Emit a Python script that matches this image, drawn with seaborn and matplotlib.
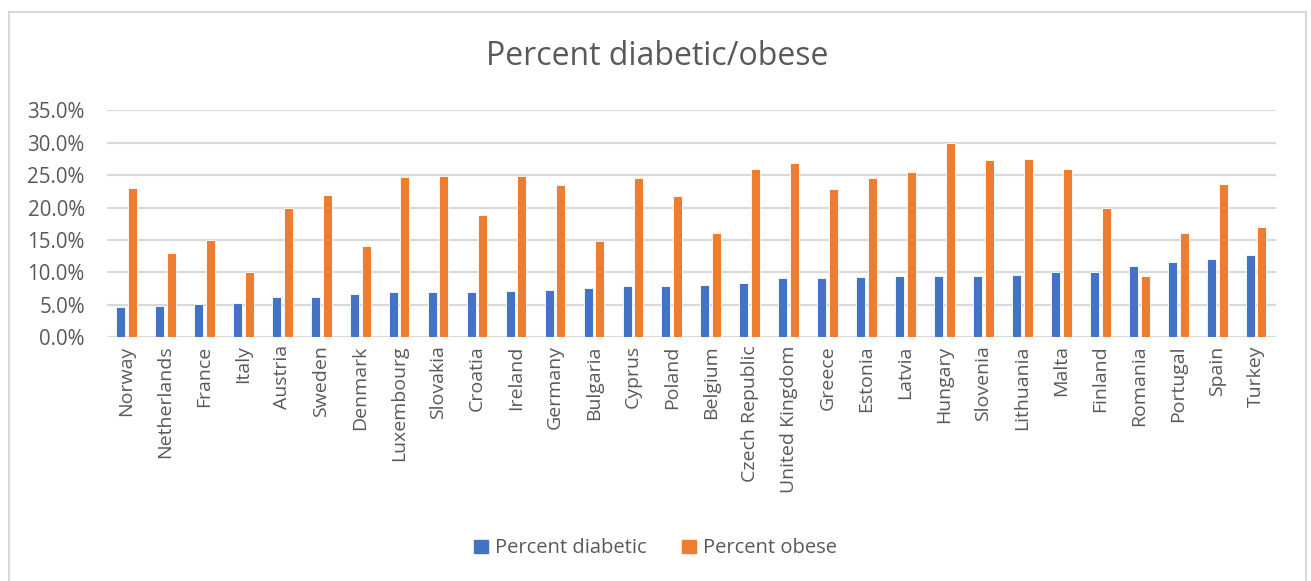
import matplotlib
matplotlib.use("Agg")
import matplotlib.pyplot as plt
import matplotlib.patches as mpatches
from matplotlib.ticker import PercentFormatter, MultipleLocator
import pandas as pd
import seaborn as sns

countries = [
    "Norway", "Netherlands", "France", "Italy", "Austria", "Sweden", "Denmark",
    "Luxembourg", "Slovakia", "Croatia", "Ireland", "Germany", "Bulgaria",
    "Cyprus", "Poland", "Belgium", "Czech Republic", "United Kingdom", "Greece",
    "Estonia", "Latvia", "Hungary", "Slovenia", "Lithuania", "Malta", "Finland",
    "Romania", "Portugal", "Spain", "Turkey",
]
pct_diabetic = [
    4.6, 4.8, 5.1, 5.3, 6.1, 6.1, 6.7, 6.9, 6.9, 6.9, 7.1, 7.3, 7.5, 7.8, 7.8,
    8.0, 8.3, 9.1, 9.1, 9.2, 9.4, 9.4, 9.4, 9.6, 10.0, 10.0, 11.0, 11.6, 12.0, 12.6,
]
pct_obese = [
    23.0, 13.0, 15.0, 10.0, 20.0, 22.0, 14.0, 24.7, 24.9, 18.8, 24.9, 23.5, 14.8,
    24.5, 21.8, 16.0, 25.9, 26.9, 22.9, 24.5, 25.5, 30.0, 27.3, 27.5, 25.9, 20.0,
    9.4, 16.0, 23.7, 17.0,
]
series_names = ["Percent diabetic", "Percent obese"]
series_colors = ["#4472C4", "#ED7D31"]

df = pd.DataFrame({
    "country": countries * 2,
    "series": [series_names[0]] * len(countries) + [series_names[1]] * len(countries),
    "value": [v / 100 for v in pct_diabetic] + [v / 100 for v in pct_obese],
})

sns.set_theme(style="white")
plt.rcParams["font.family"] = ["Open Sans", "DejaVu Sans"]

text_color = "#595959"
grid_color = "#D9D9D9"

fig = plt.figure(figsize=(13.11, 5.81), dpi=100)
ax = fig.add_axes([0.0816, 0.42, 0.8914, 0.39])

sns.barplot(
    data=df, x="country", y="value", hue="series", order=countries,
    hue_order=series_names, palette=series_colors, width=0.6, gap=0.23,
    edgecolor="white", linewidth=0.6, saturation=1, ax=ax, legend=False,
)

ax.set_ylim(0, 0.35)
ax.set_xlim(-0.5, len(countries) - 0.5)
ax.yaxis.set_major_locator(MultipleLocator(0.05))
ax.yaxis.set_major_formatter(PercentFormatter(xmax=1, decimals=1))
ax.grid(axis="y", color=grid_color, linewidth=1.6)
ax.set_axisbelow(True)
for side in ["top", "right", "left", "bottom"]:
    ax.spines[side].set_visible(False)
ax.set_xlabel("")
ax.set_ylabel("")
ax.tick_params(axis="both", length=0, colors=text_color, labelsize=14)
ax.tick_params(axis="y", pad=16, labelsize=14.8)
ax.tick_params(axis="x", pad=6)
plt.setp(ax.get_xticklabels(), rotation=90)

fig.text(0.501, 0.902, "Percent diabetic/obese", ha="center", va="center",
         fontsize=23, color=text_color)

handles = [mpatches.Patch(color=c, label=n) for c, n in zip(series_colors, series_names)]
fig.legend(handles=handles, loc="center", bbox_to_anchor=(0.5, 0.056), ncol=2,
           frameon=False, handlelength=0.65, handleheight=0.65, handletextpad=0.35,
           columnspacing=1.8, prop={"size": 14.5}, labelcolor=text_color)

# outer chart frame
fig.patches.append(mpatches.Rectangle(
    (0.0065, -0.01), 0.9895, 0.99, transform=fig.transFigure,
    fill=False, edgecolor="#D9D9D9", linewidth=1.5))

fig.savefig("out.png", dpi=100, facecolor="white")
